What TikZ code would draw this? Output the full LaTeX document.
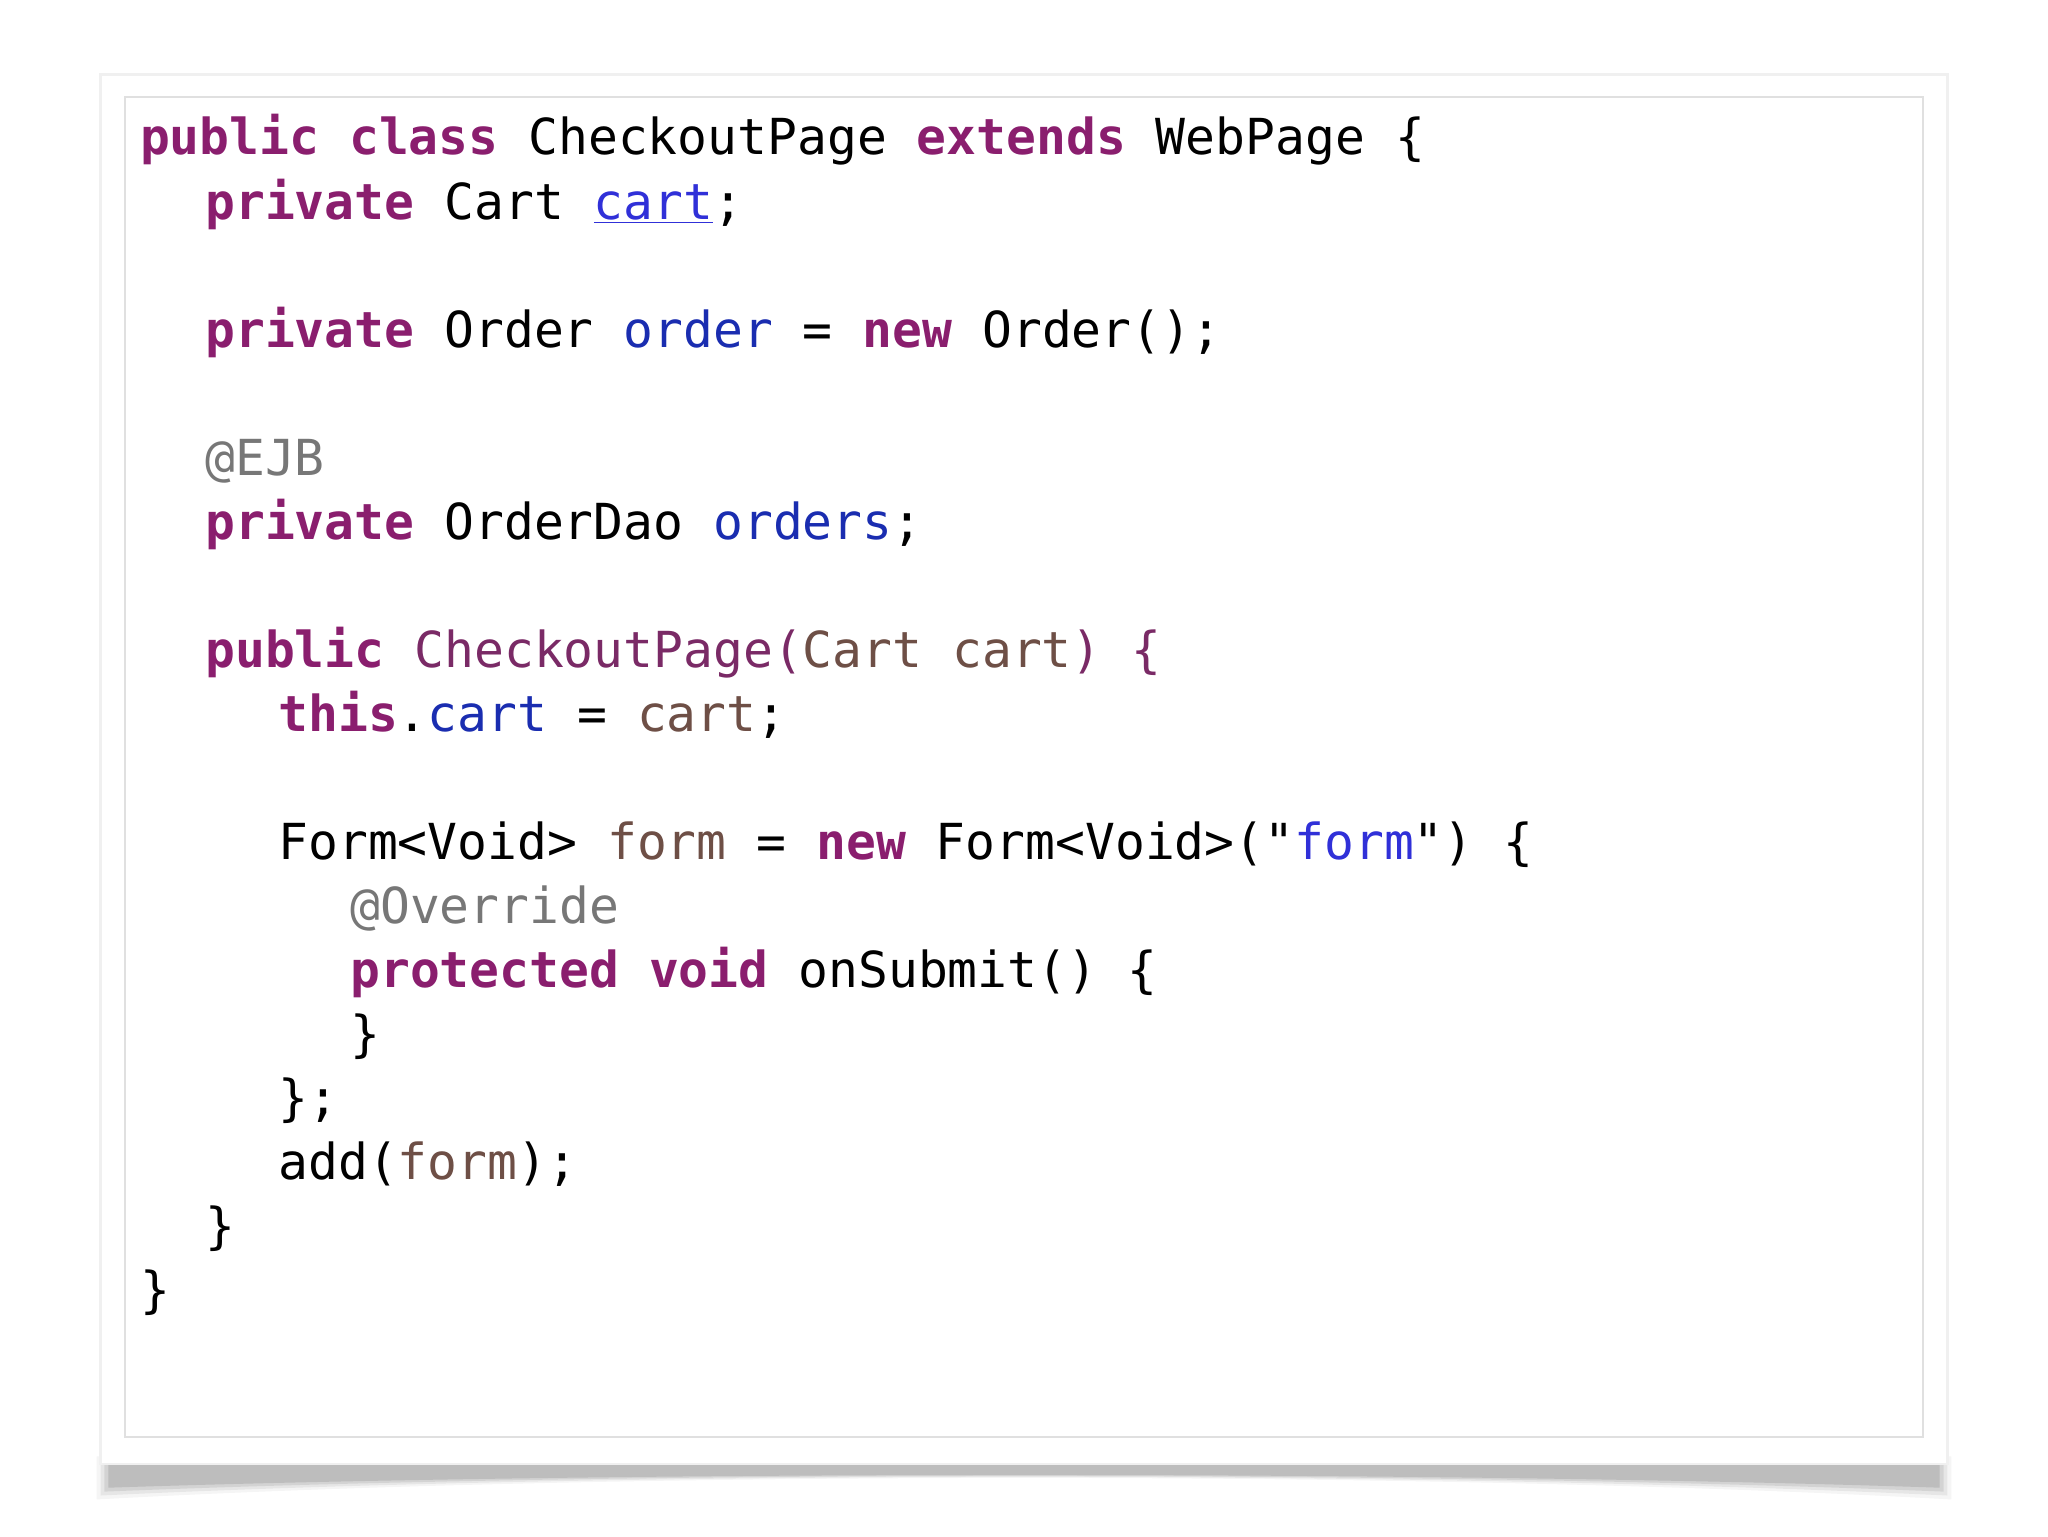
\documentclass[tikz,border=0pt]{standalone}
\usepackage{fontspec}
\setmonofont{DejaVu Sans Mono}
\definecolor{kw}{HTML}{8A1E6E}
\definecolor{fld}{HTML}{1A2DB0}
\definecolor{prm}{HTML}{6E4F46}
\definecolor{ann}{HTML}{777777}
\definecolor{str}{HTML}{3030D8}
\definecolor{ctor}{HTML}{7A2A66}
\newcommand{\K}[1]{{\color{kw}\bfseries #1}}
\newcommand{\F}[1]{{\color{fld}#1}}
\newcommand{\Pm}[1]{{\color{prm}#1}}
\begin{document}
\begin{tikzpicture}[x=1pt,y=-1pt,
  code/.style={anchor=base west,inner sep=0pt,font=\ttfamily\fontsize{38}{38}\selectfont,text=black}]
\useasboundingbox (0,0) rectangle (1568,1176);
\fill[white] (0,0) rectangle (1568,1176);
% shadow
\foreach \i/\o in {0/0.04,3/0.06,6/0.08,9/0.10}{
  \fill[black,opacity=\o] (74+\i,1115-\i) -- (1494-\i,1115-\i) -- (1494-\i,1148-\i) .. controls (1100,1126) and (470,1126) .. (74+\i,1148-\i) -- cycle;}
\fill[black!6] (76,56) rectangle (1492,1122);
\fill[white] (78,58) rectangle (1490,1120);
\draw[black!12,line width=1.5pt] (96,74) rectangle (1472,1100);
\node[code] (l1) at (107,118) {\K{public class} CheckoutPage \K{extends} WebPage \{};
\node[code] (l2) at (157,168) {\K{private} Cart {\color{str}\underline{cart}};};
\node[code] (l3) at (157,266) {\K{private} Order \F{order} = \K{new} Order();};
\node[code] (l4) at (157,364) {{\color{ann}@EJB}};
\node[code] (l5) at (157,413) {\K{private} OrderDao \F{orders};};
\node[code] (l6) at (157,511) {\K{public} {\color{ctor}CheckoutPage(}\Pm{Cart cart}{\color{ctor}) \{}};
\node[code] (l7) at (213,560) {\K{this}.\F{cart} = \Pm{cart};};
\node[code] (l8) at (213,658) {Form<Void> \Pm{form} = \K{new} Form<Void>("{\color{str}form}") \{};
\node[code] (l9) at (268,707) {{\color{ann}@Override}};
\node[code] (l10) at (268,756) {\K{protected void} onSubmit() \{};
\node[code] (l11) at (268,805) {\}};
\node[code] (l12) at (213,854) {\};};
\node[code] (l13) at (213,903) {add(\Pm{form});};
\node[code] (l14) at (157,952) {\}};
\node[code] (l15) at (107,1001) {\}};
\end{tikzpicture}
\end{document}
